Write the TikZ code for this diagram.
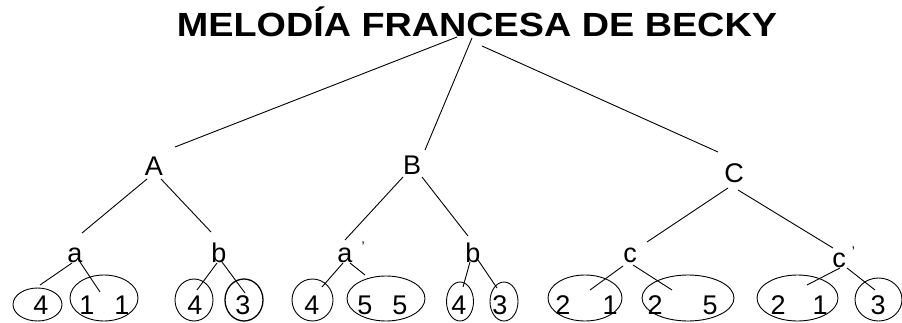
\documentclass[tikz,border=0pt]{standalone}
\usepackage{fontspec}
\setmainfont{Liberation Sans}
\usepackage{graphicx}
\usetikzlibrary{shapes.geometric}
\begin{document}
\begin{tikzpicture}[x=1pt,y=-1pt,
  lab/.style={font=\fontsize{27}{32}\selectfont, inner sep=0pt, anchor=base},
  dig/.style={font=\fontsize{27}{32}\selectfont, inner sep=0pt, anchor=base},
  oval/.style={draw, ellipse, inner sep=0pt, line width=0.9pt},
  conn/.style={draw, line width=0.9pt}]
\useasboundingbox (0,0) rectangle (902,323);
% title
\node[anchor=base, inner sep=0pt] (title) at (477,37)
  {\resizebox{600pt}{\height}{\fontsize{33.5}{40}\selectfont\bfseries MELODÍA FRANCESA DE BECKY}};
% labels
\node[lab] (A) at (154,176) {A};
\node[lab] (B) at (412,175) {B};
\node[lab] (C) at (734,183) {C};
\node[lab] (a1) at (75,262) {a};
\node[lab] (b1) at (219,262) {b};
\node[lab] (a2) at (345,262) {a\rlap{\hspace{9pt}\raisebox{11pt}{\fontsize{14}{14}\selectfont '}}};
\node[lab] (b2) at (473,262) {b};
\node[lab] (c1) at (630,262) {c};
\node[lab] (c2) at (839,267) {c\rlap{\hspace{6pt}\raisebox{11pt}{\fontsize{14}{14}\selectfont '}}};
% ellipses
\node[oval, minimum width=49, minimum height=33] (e1) at (37.5,304.5) {};
\node[oval, minimum width=68, minimum height=46] (e2) at (104,298) {};
\node[oval, minimum width=38, minimum height=42] (e3) at (194,300) {};
\node[oval, minimum width=38, minimum height=42, line width=1.3pt] (e4) at (244,300) {};
\node[oval, minimum width=41, minimum height=42] (e5) at (312.5,300) {};
\node[oval, minimum width=78, minimum height=45] (e6) at (386,298.5) {};
\node[oval, minimum width=27, minimum height=39] (e7) at (460,301.5) {};
\node[oval, minimum width=28, minimum height=39] (e8) at (504,301.5) {};
\node[oval, minimum width=74, minimum height=46] (e9) at (585,298) {};
\node[oval, minimum width=92, minimum height=46] (e10) at (688,298) {};
\node[oval, minimum width=81, minimum height=46] (e11) at (797.5,298) {};
\node[oval, minimum width=47, minimum height=43] (e12) at (878.5,299.5) {};
% digits
\node[dig] (d1) at (41,314) {4};
\node[dig] (d2) at (87,314) {1};
\node[dig] (d3) at (122,314) {1};
\node[dig] (d4) at (195,314) {4};
\node[dig] (d5) at (243,314) {3};
\node[dig] (d6) at (312,314) {4};
\node[dig] (d7) at (365,314) {5};
\node[dig] (d8) at (400,314) {5};
\node[dig] (d9) at (459,314) {4};
\node[dig] (d10) at (500,314) {3};
\node[dig] (d11) at (563,314) {2};
\node[dig] (d12) at (610,314) {1};
\node[dig] (d13) at (655,314) {2};
\node[dig] (d14) at (710,314) {5};
\node[dig] (d15) at (778,314) {2};
\node[dig] (d16) at (820,314) {1};
\node[dig] (d17) at (878,314) {3};
% connector ends
\coordinate (tA) at (457,37);  \coordinate (At) at (175,147);
\coordinate (tB) at (472,38);  \coordinate (Bt) at (425,150);
\coordinate (tC) at (482,46);  \coordinate (Ct) at (718,152);
\coordinate (Aa) at (147,179); \coordinate (aA) at (82,233);
\coordinate (Ab) at (161,179); \coordinate (bA) at (211,232);
\coordinate (a1l) at (72,263); \coordinate (e1t) at (40,285);
\coordinate (a1r) at (80,262); \coordinate (e2t) at (100,292);
\coordinate (b1l) at (217,263); \coordinate (e3t) at (197,290);
\coordinate (b1r) at (222,262); \coordinate (e4t) at (245,293);
\coordinate (Ba) at (403,177); \coordinate (aB) at (345,240);
\coordinate (Bb) at (422,177); \coordinate (bB) at (468,236);
\coordinate (a2l) at (343,263); \coordinate (e5t) at (322,287);
\coordinate (a2r) at (350,263); \coordinate (e6t) at (365,275);
\coordinate (b2l) at (470,262); \coordinate (e7t) at (463,287);
\coordinate (b2r) at (478,260); \coordinate (e8t) at (497,288);
\coordinate (Cc) at (728,188); \coordinate (cC) at (647,242);
\coordinate (Cd) at (738,190); \coordinate (dC) at (833,248);
\coordinate (c1l) at (623,266); \coordinate (e9t) at (590,290);
\coordinate (c1r) at (633,265); \coordinate (e10t) at (672,290);
\coordinate (c2l) at (840,268); \coordinate (e11t) at (807,285);
\coordinate (c2r) at (847,268); \coordinate (e12t) at (875,290);
% connectors
\path[conn] (tA) -- (At);
\path[conn] (tB) -- (Bt);
\path[conn] (tC) -- (Ct);
\path[conn] (Aa) -- (aA);
\path[conn] (Ab) -- (bA);
\path[conn] (a1l) -- (e1t);
\path[conn] (a1r) -- (e2t);
\path[conn] (b1l) -- (e3t);
\path[conn] (b1r) -- (e4t);
\path[conn] (Ba) -- (aB);
\path[conn] (Bb) -- (bB);
\path[conn] (a2l) -- (e5t);
\path[conn] (a2r) -- (e6t);
\path[conn] (b2l) -- (e7t);
\path[conn] (b2r) -- (e8t);
\path[conn] (Cc) -- (cC);
\path[conn] (Cd) -- (dC);
\path[conn] (c1l) -- (e9t);
\path[conn] (c1r) -- (e10t);
\path[conn] (c2l) -- (e11t);
\path[conn] (c2r) -- (e12t);
\end{tikzpicture}
\end{document}
